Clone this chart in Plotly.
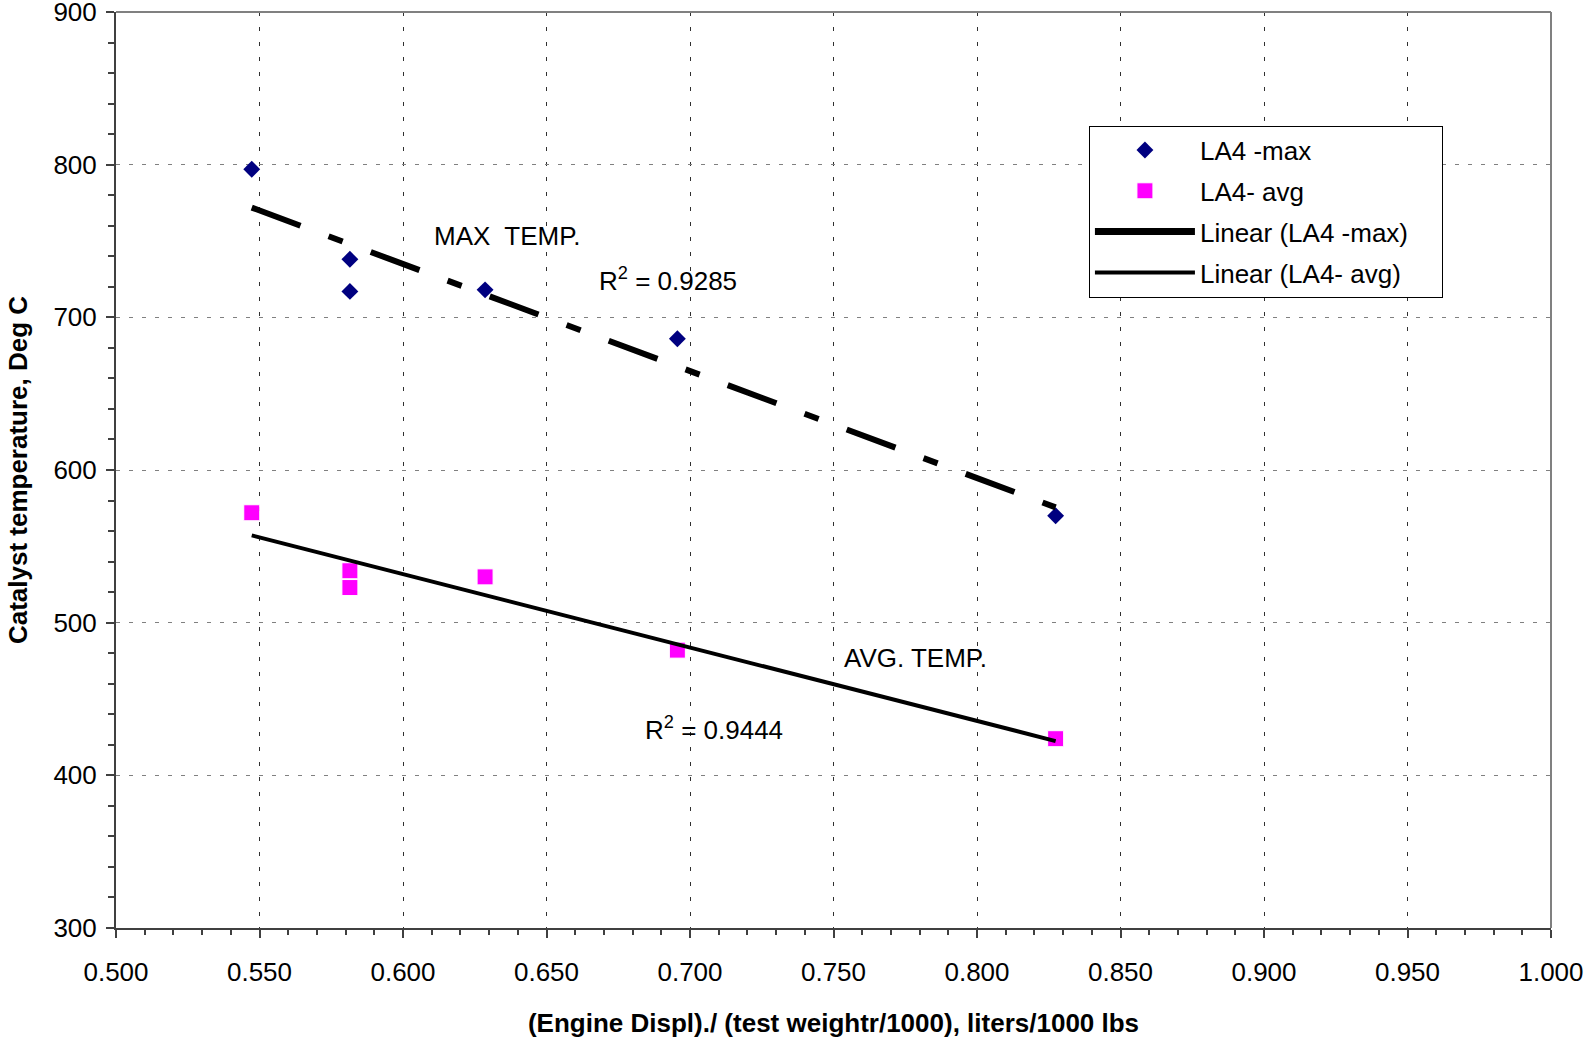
import numpy as np
import plotly.graph_objects as go

# Data
x_vals = [0.5473, 0.5815, 0.5815, 0.6286, 0.6956, 0.8274]
la4_max = [797, 738, 717, 718, 686, 570]
la4_avg = [572, 534, 523, 530, 482, 424]

x_ticks = [0.5, 0.55, 0.6, 0.65, 0.7, 0.75, 0.8, 0.85, 0.9, 0.95, 1.0]
x_ticklabels = ["0.500", "0.550", "0.600", "0.650", "0.700", "0.750", "0.800",
                "0.850", "0.900", "0.950", "1.000"]
y_ticks = [300, 400, 500, 600, 700, 800, 900]

FONT = "Arial, Liberation Sans, sans-serif"
FS = 26

xs = np.array(x_vals)
line_x = np.array([xs.min(), xs.max()])
pm = np.polyfit(xs, la4_max, 1)
pa = np.polyfit(xs, la4_avg, 1)

fig = go.Figure()

fig.add_trace(go.Scatter(
    x=x_vals, y=la4_max, mode="markers", name="LA4 -max",
    marker=dict(symbol="diamond", size=13, color="#000080"),
    legendgroup="a"))
fig.add_trace(go.Scatter(
    x=x_vals, y=la4_avg, mode="markers", name="LA4- avg",
    marker=dict(symbol="square", size=16, color="#FF00FF",
                line=dict(color="white", width=1)),
    legendgroup="b"))
fig.add_trace(go.Scatter(
    x=line_x, y=np.polyval(pm, line_x), mode="lines", name="Linear (LA4 -max)",
    line=dict(color="black", width=6, dash="52px,30px,15px,30px"),
    showlegend=False))
fig.add_trace(go.Scatter(
    x=line_x, y=np.polyval(pa, line_x), mode="lines", name="Linear (LA4- avg)",
    line=dict(color="black", width=4), showlegend=False))
# legend entries for trendlines (solid swatches as in the reference legend)
fig.add_trace(go.Scatter(
    x=[None], y=[None], mode="lines", name="Linear (LA4 -max)&nbsp;&nbsp;&nbsp;&nbsp;",
    line=dict(color="black", width=7), legendgroup="c"))
fig.add_trace(go.Scatter(
    x=[None], y=[None], mode="lines", name="Linear (LA4- avg)",
    line=dict(color="black", width=4), legendgroup="d"))

annots = [
    ("MAX  TEMP.", 0.6101, 753),
    ("R<sup>2</sup> = 0.9285", 0.6676, 725),
    ("AVG. TEMP.", 0.753, 477),
    ("R<sup>2</sup> = 0.9444", 0.6836, 431),
]
for t, ax, ay in annots:
    fig.add_annotation(x=ax, y=ay, text=t, showarrow=False, xanchor="left",
                       yanchor="middle", font=dict(family=FONT, size=FS, color="black"))

# top and right frame lines (gray)
fig.add_shape(type="line", xref="x domain", yref="y domain", x0=0, x1=1, y0=1, y1=1,
              line=dict(color="#808080", width=2))
fig.add_shape(type="line", xref="x domain", yref="y domain", x0=1, x1=1, y0=0, y1=1,
              line=dict(color="#808080", width=2))

fig.update_layout(
    width=1585, height=1045,
    margin=dict(l=116, r=34, t=12, b=117, autoexpand=False),
    paper_bgcolor="white", plot_bgcolor="white",
    font=dict(family=FONT, size=FS, color="black"),
    showlegend=True,
    legend=dict(x=0.678, y=0.876, xanchor="left", yanchor="top",
                bordercolor="black", borderwidth=1, bgcolor="white",
                font=dict(family=FONT, size=FS, color="black"),
                tracegroupgap=4, itemwidth=100),
    xaxis=dict(range=[0.5, 1.0], tickvals=x_ticks, ticktext=x_ticklabels,
               automargin=False, ticklabeloverflow="allow",
               showgrid=True, gridcolor="#303030", gridwidth=1, griddash="4px,11px",
               showline=True, linecolor="#404040", linewidth=2,
               ticks="outside", ticklen=8, tickwidth=2, tickcolor="#404040",
               ticklabelstandoff=12,
               minor=dict(dtick=0.01, ticks="outside", ticklen=5, tickwidth=1.5,
                          tickcolor="#404040", showgrid=False),
               zeroline=False,
               tickfont=dict(family=FONT, size=FS),
               title=dict(text="<b>(Engine Displ)./ (test weightr/1000), liters/1000 lbs</b>",
                          font=dict(family=FONT, size=FS), standoff=28)),
    yaxis=dict(range=[300, 900], tickvals=y_ticks,
               automargin=False, ticklabeloverflow="allow",
               showgrid=True, gridcolor="#808080", gridwidth=1, griddash="4px,9px",
               showline=True, linecolor="#404040", linewidth=2,
               ticks="outside", ticklen=8, tickwidth=2, tickcolor="#404040",
               ticklabelstandoff=4,
               minor=dict(dtick=20, ticks="outside", ticklen=6, tickwidth=1.5,
                          tickcolor="#404040", showgrid=False),
               zeroline=False,
               tickfont=dict(family=FONT, size=FS),
               title=dict(text="<b>Catalyst temperature, Deg C</b>",
                          font=dict(family=FONT, size=FS), standoff=18)),
)

fig.write_html("out.html", config={"displayModeBar": False},
               post_script="document.body.style.margin='0';document.body.style.overflow='hidden';")
